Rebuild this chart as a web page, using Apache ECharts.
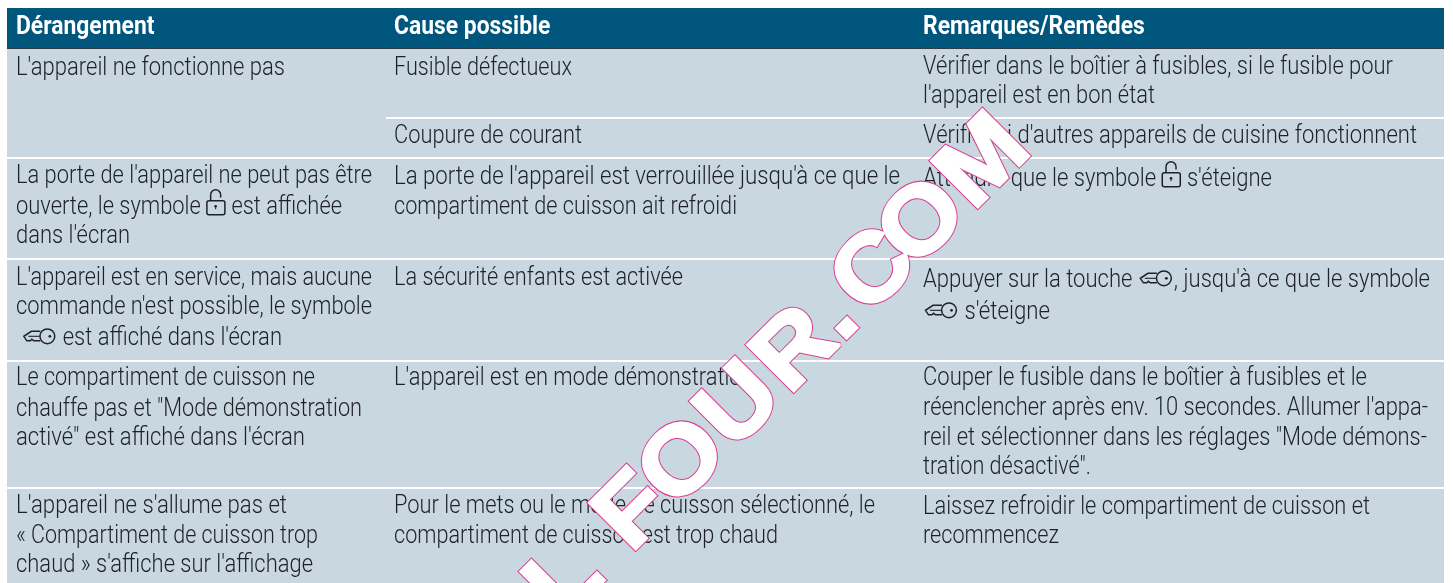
<!DOCTYPE html>
<html><head><meta charset="utf-8">
<style>html,body{margin:0;padding:0;background:#fff}#c{width:1453px;height:583px}</style>
<script src="https://cdn.jsdelivr.net/npm/echarts@6/dist/echarts.min.js"></script>
</head><body><div id="c"></div>
<script>
var LOCK='\uE000', KEY='\uE001';
var headers=["Dérangement","Cause possible","Remarques/Remèdes"];
var col1=[["L'appareil ne fonctionne pas"],
["La porte de l'appareil ne peut pas être","ouverte, le symbole "+LOCK+" est affichée","dans l'écran"],
["L'appareil est en service, mais aucune","commande n'est possible, le symbole"," "+KEY+" est affiché dans l'écran"],
["Le compartiment de cuisson ne","chauffe pas et \"Mode démonstration","activé\" est affiché dans l'écran"],
["L'appareil ne s'allume pas et","« Compartiment de cuisson trop","chaud » s'affiche sur l'affichage"]];
var col2=[["Fusible défectueux"],["Coupure de courant"],
["La porte de l'appareil est verrouillée jusqu'à ce que le","compartiment de cuisson ait refroidi"],
["La sécurité enfants est activée"],
["L'appareil est en mode démonstration"],
["Pour le mets ou le mode de cuisson sélectionné, le","compartiment de cuisson est trop chaud"]];
var col3=[["Vérifier dans le boîtier à fusibles, si le fusible pour","l'appareil est en bon état"],
["Vérifier si d'autres appareils de cuisine fonctionnent"],
["Attendre que le symbole "+LOCK+" s'éteigne"],
["Appuyer sur la touche "+KEY+", jusqu'à ce que le symbole",KEY+" s'éteigne"],
["Couper le fusible dans le boîtier à fusibles et le","réenclencher après env. 10 secondes. Allumer l'appa-","reil et sélectionner dans les réglages \"Mode démons-","tration désactivé\"."],
["Laissez refroidir le compartiment de cuisson et","recommencez"]];
var watermarkLead="AL", watermarkTail="FOUR.COM";

// layout
var FONT="Roboto", SIZE=26, SX=0.84, HSX=0.88, INK='#1d2226', BG='#c9d7e1';
var X=[16,394,923];
var base1=[[74],[182,213,242],[284,313,344],[384,415,444],[512,542,571]];
var base2=[[74],[142],[183,213],[284],[384],[512,542]];
var base3=[[73,102],[142],[185],[286,318],[384,414,444,473],[513,542]];
var ends1=[[285],[372,342,130],[372,372,282],[315,362,305],[287,318,313]];
var ends2=[[572],[582],[900,737],[683],[0],[875,778]];
var ends3=[[1393,1155],[1417],[1272],[1430,1050],[1367,1428,1427,1091],[1370,1059]];
var wmU=[86,156,236,315,367,426,495,581], wmV=859, wmLeadU=20;

var els=[];
els.push({type:'rect',shape:{x:7,y:8,width:1437,height:575},style:{fill:BG},z:1});
els.push({type:'rect',shape:{x:7,y:8,width:1437,height:40},style:{fill:'#00567c'},z:2});
els.push({type:'rect',shape:{x:7,y:48,width:1437,height:1},style:{fill:'#2f3a42'},z:2});
[157,258,360,487].forEach(function(y){els.push({type:'rect',shape:{x:7,y:y,width:1437,height:2},style:{fill:'#fff'},z:2});});
els.push({type:'rect',shape:{x:386,y:117,width:1058,height:2},style:{fill:'#fff'},z:2});

var mc=document.createElement('canvas').getContext('2d');
function w(t){mc.font='300 '+SIZE+'px '+FONT;return mc.measureText(t).width;}
function grp(x,b,kids){kids.forEach(function(k){k.z=5;k.silent=true;});els.push({type:'group',x:x,y:b,children:kids});}
function lock(x,b){
 grp(x,b,[
  {type:'rect',shape:{x:0.75,y:-12.3,width:18,height:14,r:2},style:{fill:'none',stroke:INK,lineWidth:1.5}},
  {type:'arc',shape:{cx:9.5,cy:-18.3,r:5,startAngle:Math.PI,endAngle:0,clockwise:true},style:{fill:'none',stroke:INK,lineWidth:1.5}},
  {type:'line',shape:{x1:4.5,y1:-18.3,x2:4.5,y2:-12.3},style:{stroke:INK,lineWidth:1.5}},
  {type:'line',shape:{x1:14.5,y1:-18.3,x2:14.5,y2:-15.5},style:{stroke:INK,lineWidth:1.5}},
  {type:'circle',shape:{cx:9.5,cy:-6.7,r:1.3},style:{fill:INK}},
  {type:'line',shape:{x1:9.5,y1:-6.7,x2:9.5,y2:-3.8},style:{stroke:INK,lineWidth:1}}]);
}
function key(x,b){
 grp(x+2,b-7.7,[
  {type:'polyline',shape:{points:[[17,-5],[8,-5],[0.5,0],[3.5,4.5],[7,4.5],[8.5,3],[10.5,4.5],[17,4.5]]},style:{fill:'none',stroke:INK,lineWidth:1.5}},
  {type:'line',shape:{x1:5,y1:0,x2:17,y2:0},style:{stroke:INK,lineWidth:1.1}},
  {type:'circle',shape:{cx:24,cy:0,r:7.4},style:{fill:BG,stroke:INK,lineWidth:1.5}},
  {type:'circle',shape:{cx:26.5,cy:0,r:1.4},style:{fill:INK}}]);
}
function txt(t,x,b,weight,sx,fill){
 els.push({type:'text',x:x,y:b-0.21*SIZE,scaleX:sx,z:4,silent:true,style:{text:t,font:weight+' '+SIZE+'px '+FONT,fill:fill,verticalAlign:'middle',align:'left'}});
}
function line(t,x,b,end){
 var parts=t.split(/([\uE000\uE001])/), natural=0, icons=0;
 parts.forEach(function(p){if(p===LOCK)icons+=20;else if(p===KEY)icons+=36;else if(p)natural+=w(p);});
 var sx=end?(end-x-icons)/natural:SX, cx=x;
 parts.forEach(function(p){
  if(p===LOCK){lock(cx,b);cx+=20;}
  else if(p===KEY){key(cx,b);cx+=36;}
  else if(p){txt(p,cx,b,300,sx,INK);cx+=w(p)*sx;}
 });
}
headers.forEach(function(h,i){txt(h,X[i],33,700,HSX,'#fff');});
function cell(list,bases,ends,x){list.forEach(function(ls,i){ls.forEach(function(t,j){line(t,x,bases[i][j],ends[i][j]);});});}
cell(col1,base1,ends1,X[0]);cell(col2,base2,ends2,X[1]);cell(col3,base3,ends3,X[2]);

var wmFont='bold 95px "Liberation Sans"', R2=Math.SQRT2;
function wm(t,u,align){
 [['#d9408f',5,8],['#fff',3,9]].forEach(function(l){
  els.push({type:'text',x:(u+wmV)/R2,y:(wmV-u)/R2,rotation:Math.PI/4,scaleX:1.08,z:l[2],silent:true,
   style:{text:t,font:wmFont,fill:'#fff',stroke:l[0],lineWidth:l[1],lineJoin:'miter',verticalAlign:'bottom',align:align}});
 });
}
watermarkTail.split('').forEach(function(c,i){wm(c,wmU[i],'center');});
wm(watermarkLead,wmLeadU,'right');

var chart=echarts.init(document.getElementById('c'),null,{renderer:'canvas'});
chart.setOption({animation:false,graphic:{elements:els}});
</script></body></html>
